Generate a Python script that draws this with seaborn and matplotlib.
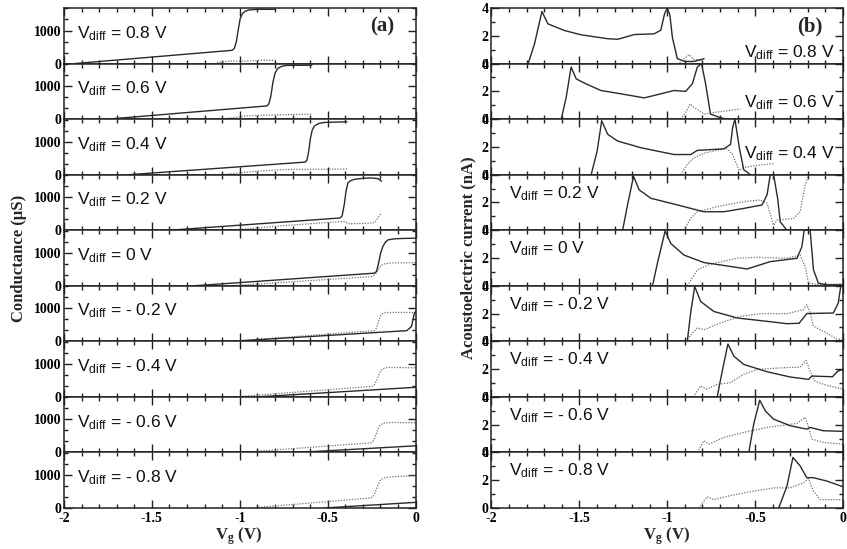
import matplotlib
matplotlib.use("Agg")
import matplotlib.pyplot as plt
import seaborn as sns
from matplotlib.ticker import MultipleLocator, FixedLocator, FixedFormatter, NullFormatter

# ---------------- data ----------------
vdiff_labels = ["0.8", "0.6", "0.4", "0.2", "0", "- 0.2", "- 0.4", "- 0.6", "- 0.8"]
xtick_vals = [-2, -1.5, -1, -0.5, 0]
xtick_labels = ["-2", "-1.5", "-1", "-0.5", "0"]
cond_ticks = [0, 1000]
cond_tick_labels = ["0", "1000"]
ae_ticks = [0, 2, 4]
ae_tick_labels = ["0", "2", "4"]

# (a) Conductance (uS) vs Vg, solid and dotted traces, one list per Vdiff
cond_solid_x = [
    [-1.94, -1.045, -1.032, -1.02, -1.008, -0.998, -0.985, -0.97, -0.95, -0.90, -0.80],
    [-1.75, -0.845, -0.835, -0.823, -0.812, -0.80, -0.785, -0.76, -0.73, -0.59],
    [-1.63, -0.628, -0.618, -0.608, -0.598, -0.588, -0.575, -0.55, -0.52, -0.39],
    [-1.40, -0.43, -0.418, -0.405, -0.395, -0.385, -0.37, -0.347, -0.30, -0.25, -0.213, -0.194],
    [-1.26, -0.235, -0.222, -0.21, -0.198, -0.185, -0.17, -0.156, -0.12, -0.08, 0.0],
    [-1.05, -0.05, -0.023, -0.007, 0.0],
    [-0.90, 0.0],
    [-0.67, 0.0],
    [-0.52, 0.0],
]
cond_solid_y = [
    [0, 400, 450, 650, 1050, 1350, 1510, 1580, 1620, 1640, 1640],
    [0, 400, 460, 700, 1100, 1380, 1530, 1600, 1625, 1630],
    [0, 380, 440, 700, 1100, 1350, 1475, 1550, 1580, 1600],
    [0, 370, 430, 800, 1200, 1430, 1500, 1540, 1570, 1580, 1560, 1480],
    [0, 381, 430, 700, 1000, 1200, 1330, 1390, 1420, 1430, 1440],
    [0, 323, 450, 850, 900],
    [0, 290],
    [0, 200],
    [0, 170],
]
cond_dot_x = [
    [-1.13, -1.05, -0.98, -0.88, -0.79],
    [-1.10, -0.96, -0.80, -0.59],
    [-1.10, -0.96, -0.77, -0.69, -0.39],
    [-1.05, -0.77, -0.44, -0.40, -0.385, -0.31, -0.232, -0.194],
    [-1.05, -0.245, -0.228, -0.21, -0.194, -0.17, -0.137, 0.0],
    [-1.05, -0.235, -0.222, -0.21, -0.198, -0.185, -0.17, -0.12, -0.023, 0.0],
    [-1.03, -0.245, -0.232, -0.22, -0.208, -0.196, -0.185, -0.17, -0.156, 0.0],
    [-0.99, -0.255, -0.24, -0.228, -0.215, -0.203, -0.19, -0.17, -0.137, 0.0],
    [-0.94, -0.255, -0.24, -0.228, -0.215, -0.203, -0.19, -0.17, -0.137, 0.0],
]
cond_dot_y = [
    [30, 80, 70, 100, 100],
    [0, 100, 130, 150],
    [0, 80, 150, 160, 170],
    [0, 130, 260, 260, 200, 200, 230, 530],
    [0, 280, 350, 520, 630, 670, 690, 700],
    [0, 323, 400, 620, 780, 850, 870, 875, 875, 850],
    [0, 320, 380, 520, 680, 800, 850, 880, 890, 880],
    [0, 290, 350, 500, 680, 820, 870, 895, 905, 900],
    [0, 303, 360, 500, 680, 820, 880, 920, 940, 980],
]

# (b) Acoustoelectric current (nA) vs Vg
ae_solid_x = [
    [-1.79, -1.755, -1.713, -1.679, -1.585, -1.49, -1.339, -1.282, -1.225, -1.188, -1.075,
     -1.037, -1.015, -1.0, -0.985, -0.971, -0.943, -0.90, -0.85, -0.79],
    [-1.603, -1.575, -1.547, -1.518, -1.471, -1.377, -1.263, -1.131, -1.037, -0.962, -0.895,
     -0.857, -0.829, -0.805, -0.782, -0.754, -0.697, -0.66],
    [-1.433, -1.399, -1.373, -1.339, -1.282, -1.15, -0.961, -0.867, -0.829, -0.678, -0.64,
     -0.628, -0.615, -0.59, -0.565, -0.527],
    [-1.254, -1.226, -1.192, -1.16, -1.093, -0.942, -0.792, -0.678, -0.565, -0.461, -0.432,
     -0.414, -0.395, -0.372, -0.357, -0.319],
    [-1.084, -1.056, -1.012, -0.98, -0.905, -0.791, -0.697, -0.546, -0.414, -0.262, -0.234,
     -0.221, -0.187, -0.168, -0.14, -0.092, 0.0],
    [-0.886, -0.867, -0.844, -0.81, -0.735, -0.602, -0.432, -0.319, -0.25, -0.206, -0.055,
     -0.027, -0.013, 0.0],
    [-0.716, -0.687, -0.655, -0.621, -0.565, -0.432, -0.3, -0.196, -0.177, -0.06, -0.03, 0.0],
    [-0.536, -0.508, -0.474, -0.442, -0.395, -0.3, -0.206, -0.187, -0.111, 0.0],
    [-0.366, -0.319, -0.285, -0.244, -0.206, -0.168, -0.092, 0.0],
]
ae_solid_y = [
    [0.05, 1.43, 3.75, 2.86, 2.38, 2.07, 1.79, 1.75, 1.95, 2.09, 2.14,
     2.4, 3.6, 4.0, 3.5, 1.9, 0.36, 0.15, 0.15, 0.35],
    [0.0, 1.57, 3.75, 2.9, 2.59, 2.06, 1.82, 1.53, 1.82, 2.06, 2.0,
     2.55, 3.75, 4.0, 2.55, 0.36, 0.1, 0.0],
    [0.0, 1.69, 3.88, 2.91, 2.42, 1.94, 1.45, 1.45, 1.75, 1.86, 2.18,
     3.4, 4.0, 1.94, 0.36, 0.0],
    [0.0, 1.82, 3.88, 2.91, 2.3, 1.82, 1.33, 1.33, 1.57, 1.82, 2.55,
     4.0, 4.0, 2.3, 0.6, 0.0],
    [0.0, 1.62, 3.95, 3.05, 2.21, 1.67, 1.5, 1.21, 1.74, 1.98, 2.81,
     4.0, 4.0, 1.14, 0.19, 0.07, 0.07],
    [0.0, 2.04, 3.95, 2.87, 2.15, 1.68, 1.44, 1.27, 1.3, 2.0, 2.04,
     2.76, 3.95, 4.0],
    [0.0, 1.86, 3.81, 2.93, 2.34, 1.81, 1.43, 1.26, 1.5, 1.45, 1.85, 1.98],
    [0.0, 2.04, 3.76, 2.99, 2.4, 1.92, 1.68, 1.8, 1.56, 1.52],
    [0.0, 1.57, 3.64, 3.03, 2.18, 2.18, 1.94, 1.53],
]
ae_dot_x = [
    [-0.93, -0.90, -0.876, -0.85, -0.80],
    [-0.924, -0.895, -0.871, -0.848, -0.79, -0.734, -0.584],
    [-0.924, -0.886, -0.85, -0.79, -0.70, -0.66, -0.63, -0.605, -0.59, -0.565, -0.50, -0.395],
    [-0.905, -0.867, -0.829, -0.716, -0.565, -0.47, -0.432, -0.395, -0.376, -0.282, -0.244,
     -0.215, -0.197],
    [-0.886, -0.829, -0.754, -0.602, -0.489, -0.319, -0.244, -0.215, -0.197, -0.13, 0.0],
    [-0.895, -0.857, -0.829, -0.791, -0.697, -0.584, -0.47, -0.319, -0.226, -0.206, -0.187,
     -0.168, -0.092, -0.036, 0.0],
    [-0.852, -0.81, -0.776, -0.716, -0.64, -0.565, -0.489, -0.338, -0.244, -0.21, -0.187,
     -0.159, -0.111, 0.0],
    [-0.829, -0.792, -0.763, -0.678, -0.565, -0.432, -0.262, -0.215, -0.196, -0.177, -0.111, 0.0],
    [-0.82, -0.773, -0.735, -0.659, -0.546, -0.395, -0.3, -0.225, -0.197, -0.168, -0.13, 0.0],
]
ae_dot_y = [
    [0.05, 0.4, 0.65, 0.3, 0.25],
    [0.0, 0.48, 1.09, 0.84, 0.36, 0.48, 0.73],
    [0.0, 0.73, 1.2, 1.55, 1.8, 1.86, 1.5, 0.73, 0.3, 0.5, 0.65, 0.8],
    [0.0, 0.85, 1.33, 1.7, 2.06, 2.18, 1.94, 0.36, 0.73, 0.85, 1.33, 3.27, 4.0],
    [0.0, 1.14, 1.57, 1.98, 2.05, 1.98, 2.21, 1.38, 0.19, 0.07, 0.15],
    [0.0, 0.6, 0.96, 0.84, 1.32, 1.8, 1.99, 1.99, 2.28, 2.64, 2.04, 1.08, 0.6, 0.17, 0.1],
    [0.0, 0.79, 0.55, 0.9, 1.03, 1.62, 1.98, 2.1, 2.14, 2.62, 1.86, 1.14, 0.9, 0.55],
    [0.0, 0.84, 0.6, 1.08, 1.44, 1.8, 2.09, 2.52, 1.8, 0.96, 0.72, 0.6],
    [0.0, 0.8, 0.6, 0.84, 1.13, 1.45, 1.45, 1.82, 2.11, 1.21, 0.6, 0.6],
]

# ---------------- style ----------------
sns.set_theme(style="ticks")
plt.rcParams.update({
    "font.family": ["Liberation Serif", "DejaVu Serif"],
    "mathtext.fontset": "custom",
    "mathtext.rm": "Liberation Sans",
    "mathtext.it": "Liberation Sans:italic",
    "mathtext.bf": "Liberation Serif:bold",
    "axes.linewidth": 1.1,
    "axes.edgecolor": "#222222",
})

SOLID = "#2a2a2a"
DOT = "#707070"
SANS = ["Liberation Sans", "DejaVu Sans"]
SERIF = ["Liberation Serif", "DejaVu Serif"]

fig, axes = plt.subplots(9, 2, figsize=(8.47, 5.49), dpi=100)
fig.subplots_adjust(left=0.0756, right=0.9953, top=0.9854, bottom=0.0747,
                    hspace=0.0, wspace=0.216)

for i in range(9):
    axa = axes[i, 0]
    axb = axes[i, 1]

    sns.lineplot(x=cond_dot_x[i], y=cond_dot_y[i], ax=axa, color=DOT, linewidth=0.9,
                 linestyle=(0, (1, 1.2)), sort=False, estimator=None)
    sns.lineplot(x=cond_solid_x[i], y=cond_solid_y[i], ax=axa, color=SOLID, linewidth=1.0,
                 sort=False, estimator=None)
    sns.lineplot(x=ae_dot_x[i], y=ae_dot_y[i], ax=axb, color=DOT, linewidth=0.9,
                 linestyle=(0, (1, 1.2)), sort=False, estimator=None)
    sns.lineplot(x=ae_solid_x[i], y=ae_solid_y[i], ax=axb, color=SOLID, linewidth=1.0,
                 sort=False, estimator=None)

    axa.set_ylim(0, 1680)
    axb.set_ylim(0, 4)
    axa.yaxis.set_major_locator(FixedLocator(cond_ticks))
    axa.yaxis.set_major_formatter(FixedFormatter(cond_tick_labels))
    axa.yaxis.set_minor_locator(MultipleLocator(1000 / 3))
    axb.yaxis.set_major_locator(FixedLocator(ae_ticks))
    axb.yaxis.set_major_formatter(FixedFormatter(ae_tick_labels))
    axb.yaxis.set_minor_locator(MultipleLocator(1))

    for ax in (axa, axb):
        ax.set_xlim(-2, 0)
        ax.xaxis.set_major_locator(FixedLocator(xtick_vals))
        ax.xaxis.set_minor_locator(MultipleLocator(0.1))
        if i == 8:
            ax.xaxis.set_major_formatter(FixedFormatter(xtick_labels))
        else:
            ax.xaxis.set_major_formatter(NullFormatter())
        ax.tick_params(which="both", direction="in", top=True, right=True,
                       width=1.0, colors="#222222")
        ax.tick_params(axis="y", pad=2)
        ax.tick_params(axis="x", pad=3)
        ax.tick_params(which="major", length=6)
        ax.tick_params(which="minor", length=3)
        for lab in ax.get_xticklabels() + ax.get_yticklabels():
            lab.set_fontfamily(SERIF)
            lab.set_fontweight("bold")
            lab.set_fontsize(10)
            lab.set_color("black")
        ax.set_xlabel("")
        ax.set_ylabel("")

    lab = r"V$_{\mathrm{diff}}$ = " + vdiff_labels[i] + " V"
    axa.text(0.037, 0.46, lab, transform=axa.transAxes, fontsize=12.5,
             family=SANS, va="baseline", ha="left", color="#111111")
    if i < 3:
        ypos = [0.12, 0.22, 0.30][i]
        axb.text(0.977, ypos, lab, transform=axb.transAxes, fontsize=12.5,
                 family=SANS, va="baseline", ha="right", color="#111111")
    else:
        axb.text(0.05, 0.58, lab, transform=axb.transAxes, fontsize=12.5,
                 family=SANS, va="baseline", ha="left", color="#111111")

axes[0, 0].text(0.94, 0.66, "(a)", transform=axes[0, 0].transAxes, fontsize=15,
                fontweight="bold", family=SERIF, ha="right", va="center")
axes[0, 1].text(0.943, 0.66, "(b)", transform=axes[0, 1].transAxes, fontsize=15,
                fontweight="bold", family=SERIF, ha="right", va="center")

fig.text(0.0224, 0.53, "Conductance (\u00b5S)", rotation=90, ha="center", va="center",
         family=SERIF, fontweight="bold", fontsize=12)
fig.text(0.5525, 0.53, "Acoustoelectric current (nA)", rotation=90, ha="center",
         va="center", family=SERIF, fontweight="bold", fontsize=12)
fig.text(239 / 847, 0.024, r"V$_{\mathbf{g}}$ (V)", ha="center", va="center",
         family=SERIF, fontweight="bold", fontsize=12)
fig.text(667 / 847, 0.024, r"V$_{\mathbf{g}}$ (V)", ha="center", va="center",
         family=SERIF, fontweight="bold", fontsize=12)

fig.savefig("out.png", dpi=100)
